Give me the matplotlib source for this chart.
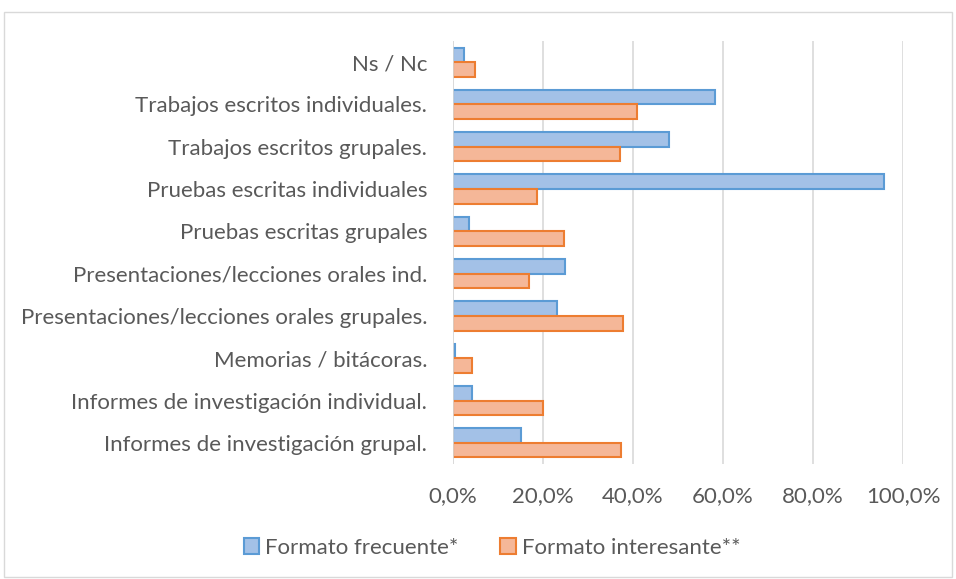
import matplotlib
matplotlib.use("Agg")
import matplotlib.pyplot as plt
import numpy as np
from matplotlib.patches import Rectangle

categories = [
    "Ns / Nc",
    "Trabajos escritos individuales.",
    "Trabajos escritos grupales.",
    "Pruebas escritas individuales",
    "Pruebas escritas grupales",
    "Presentaciones/lecciones orales ind.",
    "Presentaciones/lecciones orales grupales.",
    "Memorias / bitácoras.",
    "Informes de investigación individual.",
    "Informes de investigación grupal.",
]
frecuente = [2.4, 58.2, 48.1, 95.8, 3.5, 24.9, 23.1, 0.4, 4.2, 15.1]
interesante = [4.9, 40.9, 37.0, 18.7, 24.7, 16.9, 37.7, 4.2, 20.1, 37.3]
xticks = [0, 20, 40, 60, 80, 100]
xticklabels = ["0,0%", "20,0%", "40,0%", "60,0%", "80,0%", "100,0%"]
series_names = ["Formato frecuente*", "Formato interesante**"]

plt.rcParams['font.family'] = ['Lato', 'DejaVu Sans']
W, H = 956, 579
fig = plt.figure(figsize=(W / 100, H / 100), dpi=100)

# outer chart border
fig.patches.append(Rectangle((4 / W, 2 / H), (W - 8) / W, (H - 14) / H,
                             transform=fig.transFigure, fill=False,
                             edgecolor="#d9d9d9", linewidth=1.0))

ax = fig.add_axes([453 / W, 1 - 464 / H, (903 - 453) / W, (464 - 41) / H])

n = len(categories)
y = np.arange(n)[::-1]
h = 0.345
blue_fill, blue_edge = "#a3c1e7", "#5b9bd5"
orange_fill, orange_edge = "#f5b798", "#ed7d31"

ax.barh(y + h / 2, frecuente, height=h, color=blue_fill, edgecolor=blue_edge,
        linewidth=1.5, label=series_names[0], zorder=3)
ax.barh(y - h / 2, interesante, height=h, color=orange_fill, edgecolor=orange_edge,
        linewidth=1.5, label=series_names[1], zorder=3)

ax.set_xlim(0, 100)
ax.set_ylim(-0.5, n - 0.5)
ax.set_xticks(xticks)
ax.set_xticklabels(xticklabels)
ax.set_yticks(y)
ax.set_yticklabels(categories)
ax.grid(axis="x", color="#d9d9d9", linewidth=1.2, zorder=0)
for s in ax.spines.values():
    s.set_visible(False)
ax.axvline(0, color="#d9d9d9", linewidth=1.2, zorder=4)
ax.tick_params(axis="both", length=0, colors="#595959", labelsize=16)
ax.tick_params(axis="y", pad=18.5)
ax.tick_params(axis="x", pad=16)

leg = fig.legend(loc="center", bbox_to_anchor=(492 / W, 1 - 548 / H), ncol=2,
                 frameon=False, fontsize=16, handlelength=0.7, handleheight=0.7,
                 handletextpad=0.25, columnspacing=1.9)
for t in leg.get_texts():
    t.set_color("#595959")

fig.savefig("out.png", dpi=100)
